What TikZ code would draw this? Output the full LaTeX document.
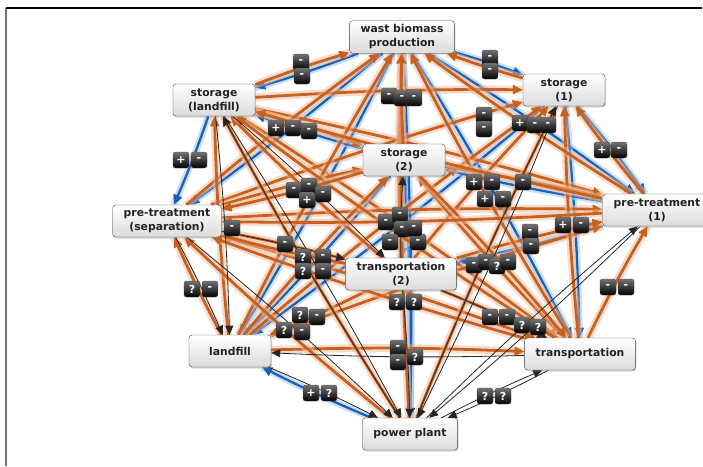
\documentclass[tikz,border=0pt]{standalone}
\usepackage{fontspec}
\setmainfont{DejaVu Sans}
\usetikzlibrary{
    arrows.meta,
    shadows,
    backgrounds
}

\definecolor{orng}{RGB}{200,96,32}
\definecolor{orngl}{RGB}{236,188,156}
\definecolor{blu}{RGB}{28,96,186}
\definecolor{blul}{RGB}{160,196,236}
\definecolor{ink}{RGB}{34,34,34}

\begin{document}
\begin{tikzpicture}[
    x=1pt, y=-1pt,
    box/.style={draw=black!75, rounded corners=3, top color=white,
        bottom color=black!14, text=ink, align=center,
        font=\fontsize{10.8}{14}\selectfont\bfseries,
        minimum width=82, minimum height=32, inner xsep=11, inner ysep=4,
        drop shadow={opacity=0.3, shadow xshift=1pt, shadow yshift=-1.5pt}},
    sgn/.style={draw=black!70, rounded corners=2.5, top color=black!55,
        bottom color=black, text=white, minimum size=16, inner sep=0,
        font=\fontsize{11}{11}\selectfont\bfseries},
    oe/.style={draw=orng, line width=2.8, -{Triangle[length=10pt,width=9pt]},
        preaction={draw=orngl, line width=8, arrows=-, opacity=0.5}},
    be/.style={draw=blu, line width=2.3, -{Triangle[length=10pt,width=9pt]},
        preaction={draw=blul, line width=7, arrows=-, opacity=0.55}},
    ke/.style={draw=black!85, line width=0.8, -{Triangle[length=9pt,width=8pt]}}
]

\useasboundingbox (0,0) rectangle (703,466);

% frame
\draw[black!55, line width=1.3] (6,466) -- (6,8);
\draw[black, line width=1.3] (6,8) -- (702,8);

% sign boxes
\foreach \x/\y/\s [count=\i] in {
    301/62/-, 302/76/-, 490/58/-, 490/71/-,
    389/96/-, 402/98/-, 414/98/-,
    276/128/+, 293/128/-, 309/131/-,
    181/160/+, 199/160/-,
    484/115/-, 484/129/-, 520/123/+, 535/125/-, 548/125/-,
    602/150/+, 619/150/-,
    474/182/+, 492/182/-, 485/199/+, 503/199/-, 523/182/-,
    563/225/+, 581/225/-, 530/232/-, 531/246/-,
    294/190/-, 309/186/-, 307/200/+, 323/194/-,
    232/228/-, 285/244/-,
    303/257/?, 323/257/-, 303/271/?, 323/271/-,
    192/289/?, 210/289/-,
    300/315/?, 317/317/-, 284/330/?, 302/332/-,
    386/222/-, 400/215/-, 402/229/-, 390/242/-, 418/242/-, 414/228/-,
    397/302/?, 414/302/?,
    398/348/-, 398/362/-, 415/357/?,
    474/265/-, 486/262/-, 497/266/?, 508/262/-,
    490/317/-, 507/317/-, 522/325/?, 538/327/?,
    608/287/-, 626/287/-,
    485/396/?, 503/396/?,
    311/393/+, 329/393/?}
    \node[sgn] (m\i) at (\x,\y) {\s};

% nodes
\node[box] (wbp) at (402,37) {wast biomass\\production};
\node[box] (stl) at (214,100) {storage\\(landfill)};
\node[box] (st1) at (564,90) {storage\\(1)};
\node[box] (st2) at (404,160) {storage\\(2)};
\node[box] (pts) at (167,221) {pre-treatment\\(separation)};
\node[box] (pt1) at (657,210) {pre-treatment\\(1)};
\node[box] (tr2) at (401,274) {transportation\\(2)};
\node[box] (lf) at (230,351) {landfill};
\node[box] (tr) at (580,354) {transportation};
\node[box] (pp) at (410,434) {power plant};

\begin{scope}[on background layer]
% blue links
\foreach \a/\b in {wbp/stl, wbp/st1, wbp/st2, wbp/pts, wbp/lf, wbp/pt1,
    wbp/tr, wbp/tr2, stl/pts, st1/pt1, st1/tr, st1/lf, st2/lf, st2/tr2,
    st2/pp, pt1/tr2, pp/lf, st2/stl, pt1/st2, wbp/pp}
    \draw[be] (\a) to[bend left=2] (\b);
% orange links
\foreach \a/\b in {stl/wbp, stl/st1, stl/pt1, stl/tr, stl/st2,
    pts/wbp, pts/st1, pts/st2, pts/pt1, pts/tr2, pts/tr,
    lf/wbp, lf/stl, lf/pts, lf/st1, lf/st2, lf/pt1, lf/tr,
    tr2/wbp, tr2/stl, tr2/st1, tr2/pt1, tr2/lf, tr2/tr, tr2/pts,
    pp/wbp, pp/stl, pp/pts, pp/st1,
    tr/wbp, tr/stl, tr/pts, tr/st1, tr/st2, tr/pt1,
    st2/wbp, st2/pt1, st2/tr, st2/pts,
    st1/wbp, pt1/wbp, pt1/st1, pt1/stl, pt1/pts}
    \draw[oe] (\a) to[bend left=2] (\b);
% black links
\foreach \a/\b in {pts/lf, stl/lf, stl/pp, pts/pp, lf/pp, tr2/pp,
    tr/pp, pt1/pp, st1/pp, pp/st1, pp/pt1, pp/tr, tr2/st2, pts/tr2,
    stl/tr2, tr2/tr, tr/lf, pp/stl}
    \draw[ke] (\a) to[bend left=2] (\b);
\end{scope}

\end{tikzpicture}
\end{document}
